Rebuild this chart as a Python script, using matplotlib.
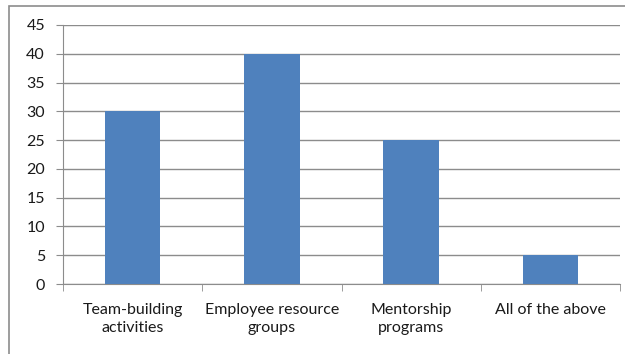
import matplotlib.pyplot as plt
from matplotlib.patches import Rectangle

categories = ["Team-building\nactivities", "Employee resource\ngroups", "Mentorship\nprograms", "All of the above"]
values = [30, 40, 25, 5]
y_ticks = [0, 5, 10, 15, 20, 25, 30, 35, 40, 45]

plt.rcParams["font.family"] = ["Lato", "DejaVu Sans"]

fig = plt.figure(figsize=(6.25, 3.54), dpi=100)
ax = fig.add_axes([63 / 625, 1 - 284 / 354, 557 / 625, 259 / 354])

# chart area border (cut off at right and bottom like the source)
fig.patches.append(Rectangle((9 / 625, -0.2), 2.0, 1.2 - 6 / 354, transform=fig.transFigure,
                             fill=False, edgecolor="#8c8c8c", linewidth=1.2))

x = range(len(categories))
ax.bar(x, values, width=0.4, color="#4F81BD", zorder=3)
ax.set_xlim(-0.5, len(categories) - 0.5)
ax.set_ylim(0, 45)
ax.set_yticks(y_ticks)
ax.yaxis.grid(True, color="#8c8c8c", linewidth=1.0, zorder=0)

ax.set_xticks(list(x))
ax.set_xticklabels(categories, fontsize=11.5, color="#1a1a1a", linespacing=1.3)
ax.set_xticks([i + 0.5 for i in range(-1, len(categories))], minor=True)
ax.tick_params(axis="x", which="major", length=0, pad=14)
ax.tick_params(axis="x", which="minor", length=5, color="#8c8c8c")
ax.tick_params(axis="y", length=5, color="#8c8c8c", labelsize=11.5, labelcolor="#1a1a1a", pad=8)

for side in ["top", "right"]:
    ax.spines[side].set_visible(False)
for side in ["left", "bottom"]:
    ax.spines[side].set_color("#8c8c8c")

fig.savefig("out.png", dpi=100)
